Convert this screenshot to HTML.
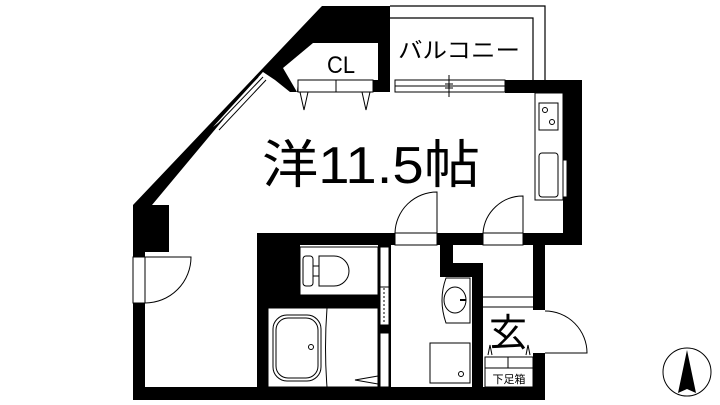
<!DOCTYPE html>
<html><head><meta charset="utf-8"><style>
html,body{margin:0;padding:0;background:#fff;}
svg{display:block;}
text{font-family:"Liberation Sans","Noto Sans CJK JP",sans-serif;fill:#000;}
</style></head><body>
<svg width="720" height="405" viewBox="0 0 720 405" xmlns="http://www.w3.org/2000/svg">
<rect width="720" height="405" fill="#fff"/>
<g fill="none" stroke="#000" stroke-width="1.2">
<polyline points="390,6 545,6 545,80"/>
<polyline points="390,18 533,18 533,80"/>
</g>
<g fill="#000">
<polygon points="322,6 390,6 390,92 290,92 275,80 263,72 152,205 152,207 133,207 133,205 320,8"/>
<rect x="133" y="205" width="36" height="47"/>
<rect x="133" y="252" width="12" height="5"/>
<rect x="133" y="303" width="12" height="97"/>
<rect x="133" y="387" width="412" height="13"/>
<rect x="505" y="80" width="77" height="13"/>
<rect x="563" y="80" width="19" height="165"/>
<rect x="257" y="233" width="138" height="12"/>
<rect x="437" y="233" width="46" height="12"/>
<rect x="523" y="233" width="59" height="12"/>
<rect x="257" y="245" width="43" height="63"/>
<rect x="257" y="245" width="11" height="142"/>
<rect x="300" y="295" width="78" height="13"/>
<rect x="378" y="245" width="13" height="142"/>
<rect x="440" y="245" width="13" height="32"/>
<rect x="453" y="263" width="30" height="14"/>
<rect x="472" y="263" width="11" height="124"/>
<rect x="533" y="245" width="12" height="65"/>
<rect x="533" y="353" width="12" height="47"/>
</g>
<polygon points="313,43 378,43 378,80 298,80 297,92 283,68" fill="#fff"/>
<rect x="298" y="80" width="75" height="12" fill="#fff" stroke="#000" stroke-width="1"/>
<line x1="336" y1="80" x2="336" y2="92" stroke="#000"/>
<g fill="none" stroke="#000" stroke-width="1">
<polyline points="300,92 304,110 308,92"/>
<polyline points="362,92 366,110 370,92"/>
</g>
<polygon points="263,72 252,84 213,127 226,117 263,76" fill="#fff"/>
<g stroke="#000" stroke-width="1">
<line x1="263" y1="77" x2="215" y2="127"/>
<line x1="258" y1="77" x2="212" y2="124"/>
<line x1="266" y1="80" x2="219" y2="130"/>
</g>
<rect x="395" y="80" width="110" height="12" fill="#fff" stroke="#000" stroke-width="1"/>
<line x1="395" y1="86" x2="505" y2="86" stroke="#000"/>
<line x1="449" y1="75" x2="449" y2="97" stroke="#000"/>
<line x1="445" y1="84" x2="453" y2="84" stroke="#000"/>
<line x1="445" y1="88" x2="453" y2="88" stroke="#000"/>
<rect x="133" y="257" width="12" height="46" fill="#fff" stroke="#000" stroke-width="1"/>
<g fill="none" stroke="#000" stroke-width="1">
<path d="M145,257 L191,257 A46,46 0 0 1 145,303"/>
<path d="M437,233 L437,192 A42,42 0 0 0 395,233"/>
<path d="M523,233 L523,196 A40,40 0 0 0 483,233"/>
<rect x="395" y="233" width="42" height="12" fill="#fff"/>
<rect x="483" y="233" width="40" height="12" fill="#fff"/>
<rect x="535" y="93" width="28" height="107"/>
<rect x="539" y="103" width="19" height="27"/>
<circle cx="545" cy="110" r="2.5"/>
<circle cx="552" cy="122" r="2.5"/>
<rect x="539" y="153" width="19" height="44" rx="3"/>
<rect x="563" y="160" width="4" height="37" fill="#fff"/>
<rect x="300" y="247" width="78" height="48" fill="#fff"/>
<rect x="303" y="256" width="10" height="30" rx="3"/>
<path d="M319,256 L334,256 A15,15 0 0 1 334,286 L319,286 Z"/>
<rect x="313" y="266" width="6" height="10"/>
<rect x="380" y="247" width="9" height="78" fill="#fff"/>
<line x1="384" y1="288" x2="384" y2="322" stroke-dasharray="2,2"/>
<rect x="380" y="333" width="9" height="54" fill="#fff"/>
<line x1="380" y1="287" x2="389" y2="287"/>
<rect x="268" y="308" width="110" height="79" fill="#fff"/>
<path d="M268,308 L327,308 Q324,348 327,387 L268,387 Z"/>
<rect x="273" y="315" width="48" height="66" rx="14"/>
<rect x="276" y="318" width="42" height="60" rx="12"/>
<circle cx="311" cy="347" r="2.5"/>
<polyline points="378,376 355,380 378,384"/>
<path d="M446,278 L470,278 L470,323 L446,323 Q438,300 446,278 Z"/>
<ellipse cx="455" cy="300" rx="11" ry="13"/>
<line x1="460" y1="300" x2="466" y2="300" stroke-width="2"/>
<rect x="430" y="343" width="40" height="40"/>
<circle cx="461" cy="374" r="2.5"/>
<line x1="483" y1="297" x2="533" y2="297"/>
<line x1="483" y1="307" x2="533" y2="307"/>
<rect x="485" y="357" width="48" height="30"/>
<line x1="485" y1="368" x2="533" y2="368"/>
<line x1="508" y1="357" x2="508" y2="368"/>
<path d="M545,353 L587,353 A42,42 0 0 0 545,311"/>
<path d="M488,355 L490,345 L492,355 M526,355 L528,345 L530,355"/>
<circle cx="687" cy="372" r="24"/>
</g>
<polygon points="687,350 678,393 687,389 696,393" fill="#000"/>
<text x="341" y="73" font-size="24" text-anchor="middle" textLength="28" lengthAdjust="spacingAndGlyphs">CL</text>
<text x="398" y="58" font-size="22" textLength="122" lengthAdjust="spacingAndGlyphs">バルコニー</text>
<text x="262" y="183" font-size="52" textLength="218" lengthAdjust="spacingAndGlyphs">洋11.5帖</text>
<text x="489" y="346" font-size="38">玄</text>
<text x="509" y="383" font-size="11" text-anchor="middle">下足箱</text>
</svg>
</body></html>
